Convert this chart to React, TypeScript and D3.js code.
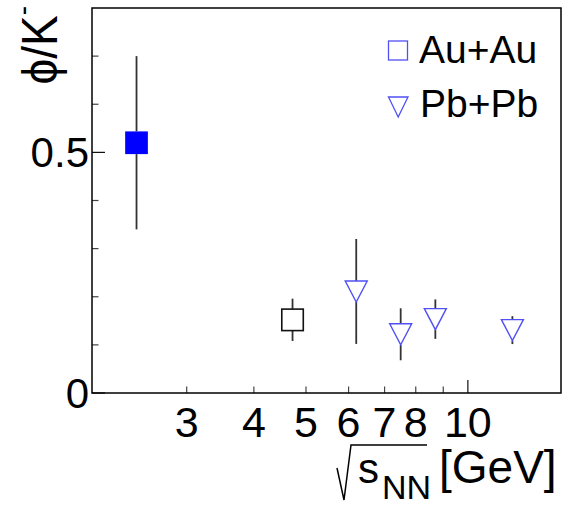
import React from "react";
import * as d3 from "d3";

const W = 565;
const H = 505;

// Data
const hadesX = [2.42];
const hadesY = [0.52];
const hadesErr = [0.18];

const auauX = [4.72];
const auauY = [0.152];
const auauErr = [0.044];

const pbpbX = [6.2, 7.5, 8.7, 12.1];
const pbpbY = [0.211, 0.122, 0.1535, 0.1307];
const pbpbErr = [0.109, 0.054, 0.041, 0.029];

const xMinorTicks = [3, 4, 5, 6, 7, 8, 9];
const xMajorTicks = [10];
const xTickLabels = [3, 4, 5, 6, 7, 8, 10];
const yMinorTicks = [0.1, 0.2, 0.3, 0.4, 0.6, 0.7];
const yMajorTicks = [0, 0.5];
const yTickLabels = ["0", "0.5"];
const yTickLabelValues = [0, 0.5];

const legendLabels = ["Au+Au", "Pb+Pb"];

const FONT = "'Liberation Sans', Arial, Helvetica, sans-serif";
const SX = 1.0;

const left = 92, right = 561, top = 8, bottom = 393;

const x = d3.scaleLog().domain([2, 14.9]).range([left, right]);
const y = d3.scaleLinear().domain([0, 0.8]).range([bottom, top]);

function T({ x, y, anchor = "start", size, children, sx = SX }: any) {
  return (
    <text
      transform={`translate(${x},${y}) scale(${sx},1)`}
      textAnchor={anchor}
      fontSize={size}
      fontFamily={FONT}
      fill="#000"
    >
      {children}
    </text>
  );
}

function ErrBar({ cx, cy, yHi, yLo, half }: any) {
  const segs: any[] = [];
  if (yHi < cy - half) segs.push([yHi, cy - half]);
  if (yLo > cy + half) segs.push([cy + half, yLo]);
  return (
    <g>
      {segs.map((s, i) => (
        <line key={i} x1={cx} x2={cx} y1={s[0]} y2={s[1]} stroke="#333" strokeWidth={1.8} />
      ))}
    </g>
  );
}

export default function App() {
  const blue = "#5050f5";
  return (
    <svg width={W} height={H} style={{ display: "block", position: "absolute", left: 0, top: 0 }}>
      <rect x={0} y={0} width={W} height={H} fill="#fff" />

      {/* y ticks */}
      {yMinorTicks.map((t) => (
        <line key={"ym" + t} x1={left} x2={left + 6.5} y1={y(t)} y2={y(t)} stroke="#444" strokeWidth={1.2} />
      ))}
      {yMajorTicks.map((t) => (
        <line key={"yM" + t} x1={left} x2={left + 13} y1={y(t)} y2={y(t)} stroke="#111" strokeWidth={1.2} />
      ))}
      {/* x ticks */}
      {xMinorTicks.map((t) => (
        <line key={"xm" + t} x1={x(t)} x2={x(t)} y1={bottom} y2={bottom - 6.5} stroke="#444" strokeWidth={1.2} />
      ))}
      {xMajorTicks.map((t) => (
        <line key={"xM" + t} x1={x(t)} x2={x(t)} y1={bottom} y2={bottom - 13} stroke="#111" strokeWidth={1.2} />
      ))}

      {/* frame */}
      <rect x={left} y={top} width={right - left} height={bottom - top} fill="none" stroke="#000" strokeWidth={1.5} />

      {/* tick labels */}
      {yTickLabels.map((l, i) => (
        <T key={"yl" + l} x={89} y={y(yTickLabelValues[i]) + 15} anchor="end" size={42}>
          {l}
        </T>
      ))}
      {xTickLabels.map((l) => (
        <T key={"xl" + l} x={x(l)} y={437} anchor="middle" size={43}>
          {String(l)}
        </T>
      ))}

      {/* y title */}
      <text
        transform={`translate(57,6) scale(1.08,1) rotate(-90)`}
        textAnchor="end"
        fontSize={46}
        fontFamily={FONT}
      >
        ϕ/K
        <tspan fontSize={28} dy={-22}>-</tspan>
      </text>

      {/* x title */}
      <path d="M337,468 L344,500 L351,445 L427,445" fill="none" stroke="#000" strokeWidth={1.5} />
      <T x={358} y={483} size={42}>s</T>
      <T x={382} y={499} size={34}>NN</T>
      <T x={439} y={483} size={46}>[GeV]</T>

      {/* data: HADES filled square */}
      {hadesX.map((v, i) => {
        const cx = x(v), cy = y(hadesY[i]);
        const s = 22.7;
        return (
          <g key={"h" + i}>
            <ErrBar cx={cx} cy={cy} yHi={y(hadesY[i] + hadesErr[i])} yLo={y(hadesY[i] - hadesErr[i])} half={s / 2} />
            <rect x={cx - s / 2} y={cy - s / 2} width={s} height={s} fill="#0000ff" />
          </g>
        );
      })}

      {/* Au+Au open black square */}
      {auauX.map((v, i) => {
        const cx = x(v), cy = y(auauY[i]);
        const s = 21.5;
        return (
          <g key={"a" + i}>
            <ErrBar cx={cx} cy={cy} yHi={y(auauY[i] + auauErr[i])} yLo={y(auauY[i] - auauErr[i])} half={s / 2} />
            <rect x={cx - s / 2} y={cy - s / 2} width={s} height={s} fill="none" stroke="#111" strokeWidth={1.6} />
          </g>
        );
      })}

      {/* Pb+Pb open triangles down */}
      {pbpbX.map((v, i) => {
        const cx = x(v), cy = y(pbpbY[i]);
        const hw = 11, hh = 10.5;
        return (
          <g key={"p" + i}>
            <ErrBar cx={cx} cy={cy} yHi={y(pbpbY[i] + pbpbErr[i])} yLo={y(pbpbY[i] - pbpbErr[i])} half={hh} />
            <path
              d={`M${cx - hw},${cy - hh} L${cx + hw},${cy - hh} L${cx},${cy + hh} Z`}
              fill="none"
              stroke={blue}
              strokeWidth={1.4}
            />
          </g>
        );
      })}

      {/* legend */}
      <rect x={388.5} y={41} width={19} height={19} fill="none" stroke={blue} strokeWidth={1.3} />
      <path d="M388.5,97 L408,97 L398.2,117 Z" fill="none" stroke={blue} strokeWidth={1.3} />
      <T x={419} y={63} size={39}>{legendLabels[0]}</T>
      <T x={420} y={117} size={39}>{legendLabels[1]}</T>
    </svg>
  );
}
